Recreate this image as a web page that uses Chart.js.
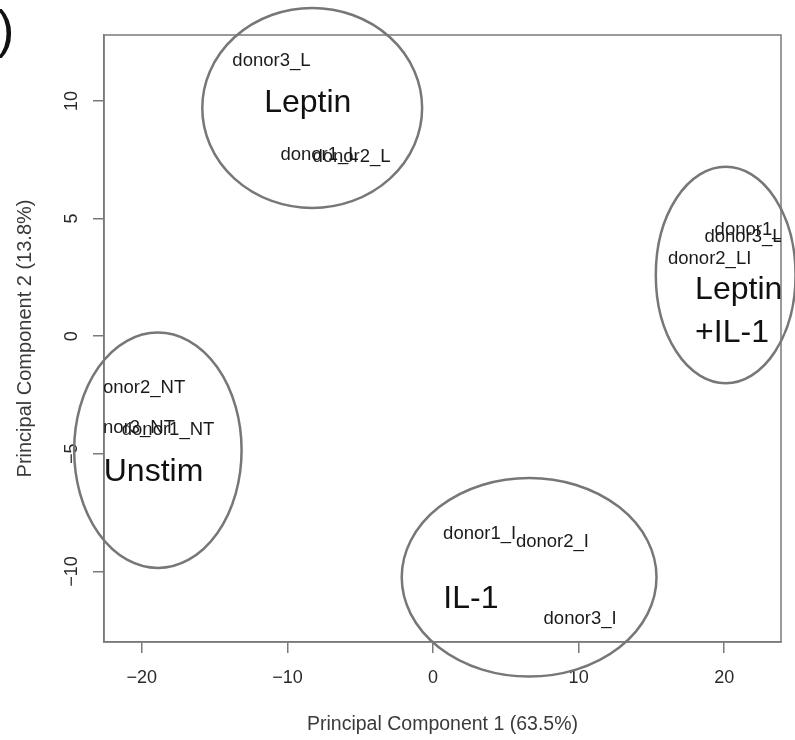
<!DOCTYPE html>
<html>
<head>
<meta charset="utf-8">
<script src="https://cdn.jsdelivr.net/npm/chart.js@4"></script>
<style>
  html, body { margin: 0; padding: 0; background: #fff; }
  #wrap { width: 795px; height: 740px; }
</style>
</head>
<body>
<div id="wrap"><canvas id="pca" width="795" height="740"></canvas></div>
<script>
// sample scores on the first two principal components
const sampleLabels = [
  "donor1_NT", "donor2_NT", "donor3_NT",
  "donor1_L", "donor2_L", "donor3_L",
  "donor1_I", "donor2_I", "donor3_I",
  "donor1_LI", "donor2_LI", "donor3_LI",
];
const pc1 = [-18.2, -20.2, -20.9, -7.8, -5.6, -11.1, 3.2, 8.2, 10.1, 22.2, 19.0, 21.5];
const pc2 = [-4.0, -2.2, -3.9, 7.7, 7.6, 11.7, -8.4, -8.75, -12.0, 4.5, 3.3, 4.2];

// group ellipses (data units)
const groupNames = ["Unstim", "Leptin", "IL-1", "Leptin\n+IL-1"];
const groupCx = [-18.9, -8.3, 6.6, 20.1];
const groupCy = [-4.85, 9.7, -10.25, 2.6];
const groupRx = [5.75, 7.55, 8.75, 4.8];
const groupRy = [5.0, 4.25, 4.22, 4.6];
const groupLabelX = [-19.2, -8.6, 2.6, 18.0];
const groupLabelY = [-5.8, 9.9, -11.2, 1.95];

const xTicks = [-20, -10, 0, 10, 20];
const yTicks = [-10, -5, 0, 5, 10];

const FONT = "'Liberation Sans', Arial, sans-serif";
const axisColor = "#7a7a7a";
Chart.defaults.font.family = FONT;

const minus = (v) => String(v).replace("-", "\u2212");

const boxPlugin = {
  id: "box",
  beforeDraw(chart) {
    const { ctx } = chart;
    ctx.save();
    ctx.fillStyle = "#fff";
    ctx.fillRect(0, 0, chart.width, chart.height);
    ctx.restore();
  },
  afterDraw(chart) {
    const { ctx, chartArea: a, scales } = chart;
    ctx.save();
    ctx.strokeStyle = axisColor;
    ctx.lineWidth = 1.5;
    ctx.strokeRect(a.left, a.top, a.right - a.left, a.bottom - a.top);

    // sample labels, clipped to the plot region
    const meta = chart.getDatasetMeta(0);
    ctx.save();
    ctx.beginPath();
    ctx.rect(a.left, a.top, a.right - a.left, a.bottom - a.top);
    ctx.clip();
    ctx.fillStyle = "#1a1a1a";
    ctx.font = "18.5px " + FONT;
    ctx.textAlign = "center";
    ctx.textBaseline = "middle";
    meta.data.forEach((pt, i) => {
      ctx.fillText(sampleLabels[i], pt.x, pt.y);
    });
    ctx.restore();

    // group ellipses
    const x = scales.x, y = scales.y;
    ctx.strokeStyle = "#777";
    ctx.lineWidth = 2.5;
    groupNames.forEach((g, i) => {
      const cx = x.getPixelForValue(groupCx[i]);
      const cy = y.getPixelForValue(groupCy[i]);
      const rx = Math.abs(x.getPixelForValue(groupCx[i] + groupRx[i]) - cx);
      const ry = Math.abs(y.getPixelForValue(groupCy[i] + groupRy[i]) - cy);
      ctx.beginPath();
      ctx.ellipse(cx, cy, rx, ry, 0, 0, Math.PI * 2);
      ctx.stroke();
    });

    // group names
    ctx.fillStyle = "#111";
    ctx.font = "32px " + FONT;
    ctx.textBaseline = "middle";
    groupNames.forEach((g, i) => {
      const lines = g.split("\n");
      const px = x.getPixelForValue(groupLabelX[i]);
      const py = y.getPixelForValue(groupLabelY[i]);
      ctx.textAlign = lines.length > 1 ? "left" : "center";
      lines.forEach((l, k) => ctx.fillText(l, px, py + k * 43));
    });

    // panel letter fragment
    ctx.fillStyle = "#111";
    ctx.font = "52px " + FONT;
    ctx.textAlign = "left";
    ctx.fillText(")", -3, 33);
    ctx.restore();
  },
};

new Chart("pca", {
  type: "scatter",
  data: {
    datasets: [
      {
        data: pc1.map((v, i) => ({ x: v, y: pc2[i] })),
        pointRadius: 0,
        pointHoverRadius: 0,
      },
    ],
  },
  options: {
    responsive: false,
    animation: false,
    devicePixelRatio: 1,
    layout: { padding: { left: 0, top: 35, right: 14, bottom: 0 } },
    plugins: { legend: { display: false }, tooltip: { enabled: false } },
    scales: {
      x: {
        type: "linear",
        min: -22.6,
        max: 23.9,
        afterBuildTicks: (s) => { s.ticks = xTicks.map((v) => ({ value: v })); },
        afterFit: (s) => { s.height = 98; },
        grid: { drawOnChartArea: false, drawTicks: true, tickLength: 11, color: axisColor, lineWidth: 1.5 },
        border: { display: true, color: axisColor, width: 1.5 },
        ticks: { color: "#2a2a2a", font: { size: 18 }, padding: 14, maxRotation: 0, callback: minus },
        title: {
          display: true,
          text: "Principal Component 1 (63.5%)",
          color: "#3a3a3a",
          font: { size: 19.5 },
          padding: { top: 0, bottom: 4 },
        },
      },
      y: {
        type: "linear",
        min: -13.0,
        max: 12.8,
        afterBuildTicks: (s) => { s.ticks = yTicks.map((v) => ({ value: v })); },
        afterFit: (s) => { s.width = 104; },
        grid: { drawOnChartArea: false, drawTicks: true, tickLength: 11, color: axisColor, lineWidth: 1.5 },
        border: { display: true, color: axisColor, width: 1.5 },
        ticks: { color: "#2a2a2a", font: { size: 18 }, padding: 6, minRotation: 90, maxRotation: 90, crossAlign: "center", callback: minus },
        title: {
          display: true,
          text: "Principal Component 2 (13.8%)",
          color: "#3a3a3a",
          font: { size: 20 },
          padding: { top: 13, bottom: 0 },
        },
      },
    },
  },
  plugins: [boxPlugin],
});
</script>
</body>
</html>
